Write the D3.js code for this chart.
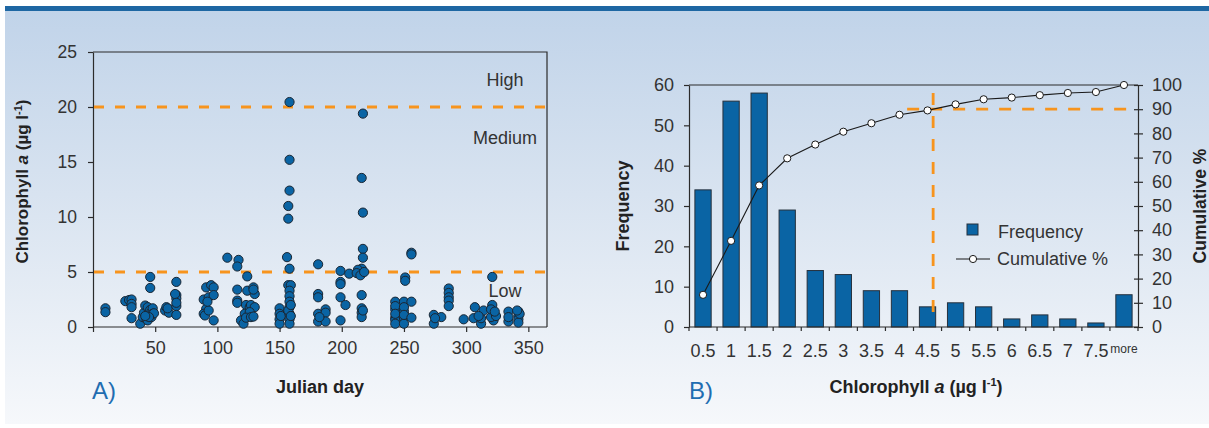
<!DOCTYPE html>
<html>
<head>
<meta charset="utf-8">
<script src="https://cdn.jsdelivr.net/npm/d3@7"></script>
<style>
  html, body { margin: 0; padding: 0; background: #ffffff; }
  svg { display: block; font-family: "Liberation Sans", Arial, Helvetica, sans-serif; }
  .axis path, .axis line { stroke: #2b2b2b; stroke-width: 1.2; }
  .axis text { fill: #333333; }
</style>
</head>
<body>
<svg id="chart" width="1209" height="428"></svg>
<script>
// ---- Panel A: chlorophyll a samples by Julian day [day, µg/l] ----
const samples = [
  [10,1.7],[10,1.35],
  [26,2.35],[29,2.45],[31,2.5],[31,2.1],[31,1.8],[31,0.8],
  [38,0.3],[40,0.9],[41,1.3],[42,1.95],[43,0.7],[44,1.8],[44,0.6],[45,1.05],[46,1.55],[47,1.35],
  [46,4.55],[46,3.55],[47,0.9],[48,1.7],[48,1.2],[49,1.25],[45,0.9],[42,1.0],
  [58,1.5],[59,1.8],[61,1.3],[60,1.7],
  [67,4.1],[67,2.9],[67,2.6],[67,1.9],[67,1.1],[66,3.0],[67,2.2],
  [89,2.5],[91,1.65],[89,1.2],[90,1.05],[93,1.5],[93,2.7],[91,3.6],[95,3.8],[97,3.6],[97,2.9],[97,0.6],[92,2.3],
  [108,6.3],[117,6.1],[116,5.5],[124,4.6],[116,3.4],[116,2.4],[116,2.2],[124,3.3],[129,3.6],[130,3.0],[129,3.4],
  [123,2.0],[126,1.8],[127,2.0],[130,1.8],[122,1.2],[126,1.35],[119,0.6],[121,0.3],[123,0.85],[127,0.9],[129,0.95],
  [150,1.7],[150,1.2],[150,0.7],[150,0.3],[151,1.0],
  [158,20.45],[158,15.2],[158,12.4],[157,11.0],[157,9.85],[156,6.35],[158,5.3],[157,3.8],[159,3.8],[158,3.3],
  [158,2.8],[158,2.3],[158,1.8],[158,1.2],[158,0.7],[158,0.3],[157,1.5],[159,2.0],[159,1.0],
  [181,5.7],[181,3.0],[181,2.7],[181,1.2],[181,0.5],[187,1.6],[187,1.3],[187,0.5],[182,0.9],
  [199,5.1],[199,4.1],[199,3.9],[199,2.7],[203,2.0],[199,0.6],[206,4.85],
  [217,19.4],[216,13.55],[217,10.4],[217,7.1],[217,6.3],[216,5.3],[213,5.2],[212,4.9],[215,4.7],[218,5.0],
  [216,2.9],[216,1.7],[216,1.3],[216,0.9],[217,1.5],
  [251,4.5],[251,4.2],[256,6.75],[256,6.6],
  [243,2.3],[243,1.6],[243,0.85],[243,0.65],[243,0.3],[243,1.9],[243,1.2],
  [250,2.3],[250,1.4],[250,0.85],[250,0.3],[250,1.8],[250,1.1],[256,2.3],[256,0.85],
  [274,1.1],[274,0.3],[280,0.9],[275,0.8],[286,3.5],[286,3.1],[286,2.7],[286,2.4],[286,1.9],
  [298,0.7],[306,0.8],[307,1.8],[312,0.3],[312,0.8],[314,1.5],[310,1.0],
  [321,4.55],[321,2.0],[322,1.2],[322,0.9],[322,0.6],[320,0.9],[324,1.0],[320,1.6],[323,1.4],
  [334,1.4],[334,0.5],[334,0.9],
  [342,1.4],[342,1.0],[342,0.7],[342,0.4],[343,1.2],[341,1.5]
];
const dayTicks = [0, 50, 100, 150, 200, 250, 300, 350];
const chlTicks = [0, 5, 10, 15, 20, 25];
const levelCuts = [5, 20];
const levelNames = ["Low", "Medium", "High"];

// ---- Panel B: frequency distribution of chlorophyll a ----
const binLabels = ["0.5","1","1.5","2","2.5","3","3.5","4","4.5","5","5.5","6","6.5","7","7.5","more"];
const frequency = [34, 56, 58, 29, 14, 13, 9, 9, 5, 6, 5, 2, 3, 2, 1, 8];
const cumulativePct = [13.3, 35.6, 58.5, 69.7, 75.4, 80.7, 84.2, 87.7, 89.5, 92.0, 94.1, 94.8, 95.8, 96.7, 97.1, 100];
const freqTicks = [0, 10, 20, 30, 40, 50, 60];
const pctTicks = [0, 10, 20, 30, 40, 50, 60, 70, 80, 90, 100];
const pctThreshold = 90;

// ---- colours ----
const BLUE = "#0a64a4";
const ORANGE = "#f7941d";
const INK = "#2b2b2b";
const TEXT = "#333333";

const svg = d3.select("#chart");

// background panel with vertical gradient and top rule
const defs = svg.append("defs");
const grad = defs.append("linearGradient").attr("id", "bg").attr("x1", 0).attr("y1", 0).attr("x2", 0).attr("y2", 1);
grad.append("stop").attr("offset", "0%").attr("stop-color", "#c0d3e9");
grad.append("stop").attr("offset", "45%").attr("stop-color", "#d8e3f0");
grad.append("stop").attr("offset", "100%").attr("stop-color", "#f6f8fb");
svg.append("rect").attr("x", 5).attr("y", 6).attr("width", 1204).attr("height", 418).attr("fill", "url(#bg)");
svg.append("rect").attr("x", 5).attr("y", 6).attr("width", 1204).attr("height", 5).attr("fill", "#1e67a3");

// ================= Panel A =================
const A = { left: 93, right: 547, top: 52, bottom: 327 };
const xA = d3.scaleLinear().domain([0, 365]).range([A.left, A.right]);
const yA = d3.scaleLinear().domain([0, 25]).range([A.bottom, A.top]);
const gA = svg.append("g");

// frame (top and right)
gA.append("path")
  .attr("d", `M${A.left},${A.top}H${A.right}V${A.bottom}`)
  .attr("fill", "none").attr("stroke", INK).attr("stroke-width", 1.2);

// y axis
const yAxisA = gA.append("g").attr("class", "axis")
  .attr("transform", `translate(${A.left},0)`)
  .call(d3.axisLeft(yA).tickValues(chlTicks).tickSize(5).tickPadding(11).tickSizeOuter(0));
yAxisA.selectAll("text").style("font-size", "17.5px");

// x axis
const xAxisA = gA.append("g").attr("class", "axis")
  .attr("transform", `translate(0,${A.bottom})`)
  .call(d3.axisBottom(xA).tickValues(dayTicks).tickSize(5).tickPadding(9).tickSizeOuter(0)
    .tickFormat(d => d === 0 ? "" : d));
xAxisA.select(".domain").attr("d", `M${A.left},0H${A.right}`);
xAxisA.selectAll("text").style("font-size", "18px");

// class thresholds
gA.selectAll("line.cut").data(levelCuts).enter().append("line")
  .attr("class", "cut")
  .attr("x1", A.left + 1).attr("x2", A.right)
  .attr("y1", d => yA(d)).attr("y2", d => yA(d))
  .attr("stroke", ORANGE).attr("stroke-width", 2.8).attr("stroke-dasharray", "10,11");

// class labels
const levelLabelVals = [3.3, 17.2, 22.5];
gA.selectAll("text.level").data(levelNames).enter().append("text")
  .attr("class", "level")
  .attr("x", A.right - 42)
  .attr("y", (d, i) => yA(levelLabelVals[i]) + 6)
  .attr("text-anchor", "middle")
  .style("font-size", "18px").attr("fill", TEXT)
  .text(d => d);

// points
gA.append("g").selectAll("circle").data(samples).enter().append("circle")
  .attr("cx", d => xA(d[0])).attr("cy", d => yA(d[1])).attr("r", 4.6)
  .attr("fill", BLUE).attr("stroke", "#1a2633").attr("stroke-width", 1);

// axis titles
const yTitleA = gA.append("text")
  .attr("transform", `translate(28,${(A.top + A.bottom) / 2 - 8}) rotate(-90)`)
  .attr("text-anchor", "middle")
  .style("font-size", "17px").style("font-weight", "bold").attr("fill", "#222");
yTitleA.append("tspan").text("Chlorophyll ");
yTitleA.append("tspan").style("font-style", "italic").text("a");
yTitleA.append("tspan").text(" (µg l");
yTitleA.append("tspan").attr("dy", -6).style("font-size", "11px").text("-1");
yTitleA.append("tspan").attr("dy", 6).text(")");

gA.append("text").attr("x", 320).attr("y", 393).attr("text-anchor", "middle")
  .style("font-size", "18px").style("font-weight", "bold").attr("fill", "#222").text("Julian day");
gA.append("text").attr("x", 92).attr("y", 399)
  .style("font-size", "24px").attr("fill", "#1f6db1").text("A)");

// ================= Panel B =================
const B = { left: 689, right: 1138, top: 85, bottom: 327 };
const xB = d3.scaleBand().domain(binLabels).range([B.left, B.right]).paddingInner(0.42).paddingOuter(0.21);
const yF = d3.scaleLinear().domain([0, 60]).range([B.bottom, B.top]);
const yP = d3.scaleLinear().domain([0, 100]).range([B.bottom, B.top]);
const gB = svg.append("g");

// top frame
gB.append("line").attr("x1", B.left).attr("x2", B.right).attr("y1", B.top).attr("y2", B.top)
  .attr("stroke", INK).attr("stroke-width", 1.2);

// bars
gB.append("g").selectAll("rect").data(binLabels).enter().append("rect")
  .attr("x", d => xB(d)).attr("width", xB.bandwidth())
  .attr("y", (d, i) => yF(frequency[i])).attr("height", (d, i) => yF(0) - yF(frequency[i]))
  .attr("fill", BLUE).attr("stroke", "#26313d").attr("stroke-width", 1);

// left axis
const yAxisF = gB.append("g").attr("class", "axis")
  .attr("transform", `translate(${B.left},0)`)
  .call(d3.axisLeft(yF).tickValues(freqTicks).tickSize(5).tickPadding(10).tickSizeOuter(0));
yAxisF.selectAll("text").style("font-size", "18px");

// right axis (ticks cross the line)
const yAxisP = gB.append("g").attr("class", "axis")
  .attr("transform", `translate(${B.right},0)`)
  .call(d3.axisRight(yP).tickValues(pctTicks).tickSize(5).tickPadding(9).tickSizeOuter(0));
yAxisP.selectAll(".tick line").attr("x1", -4).attr("x2", 5);
yAxisP.selectAll("text").style("font-size", "18px");

// bottom axis with ticks on bin boundaries
const step = xB.step();
const edges = d3.range(binLabels.length + 1);
const xAxisB = gB.append("g").attr("class", "axis");
xAxisB.append("line").attr("x1", B.left).attr("x2", B.right).attr("y1", B.bottom).attr("y2", B.bottom);
xAxisB.selectAll("line.edge").data(edges).enter().append("line").attr("class", "edge")
  .attr("x1", i => B.left + i * step).attr("x2", i => B.left + i * step)
  .attr("y1", B.bottom).attr("y2", B.bottom + 4);
xAxisB.selectAll("text").data(binLabels).enter().append("text")
  .attr("x", d => xB(d) + xB.bandwidth() / 2)
  .attr("y", d => d === "more" ? 353 : 357)
  .attr("text-anchor", "middle")
  .style("font-size", d => d === "more" ? "12px" : "18px")
  .text(d => d);

// cumulative line where it reaches the threshold
const cx = (d, i) => xB(binLabels[i]) + xB.bandwidth() / 2;
let crossX = cx(null, binLabels.length - 1);
for (let i = 1; i < cumulativePct.length; i++) {
  if (cumulativePct[i - 1] < pctThreshold && cumulativePct[i] >= pctThreshold) {
    const t = (pctThreshold - cumulativePct[i - 1]) / (cumulativePct[i] - cumulativePct[i - 1]);
    crossX = cx(null, i - 1) + t * (cx(null, i) - cx(null, i - 1));
    break;
  }
}
gB.append("line")
  .attr("x1", crossX - 26).attr("x2", B.right - 2)
  .attr("y1", yP(pctThreshold)).attr("y2", yP(pctThreshold))
  .attr("stroke", ORANGE).attr("stroke-width", 2.8).attr("stroke-dasharray", "12,11");
gB.append("line")
  .attr("x1", crossX).attr("x2", crossX)
  .attr("y1", yP(100) + 8).attr("y2", yP(0) - 10)
  .attr("stroke", ORANGE).attr("stroke-width", 2.8).attr("stroke-dasharray", "12,11");

// cumulative % line and markers
const line = d3.line().x((d, i) => cx(d, i)).y(d => yP(d));
gB.append("path").datum(cumulativePct).attr("d", line)
  .attr("fill", "none").attr("stroke", "#1a1a1a").attr("stroke-width", 1.1);
gB.append("g").selectAll("circle").data(cumulativePct).enter().append("circle")
  .attr("cx", (d, i) => cx(d, i)).attr("cy", d => yP(d)).attr("r", 3.6)
  .attr("fill", "#ffffff").attr("stroke", "#1a1a1a").attr("stroke-width", 1);

// legend
const leg = gB.append("g");
leg.append("rect").attr("x", 967).attr("y", 224).attr("width", 11).attr("height", 11)
  .attr("fill", BLUE).attr("stroke", "#26313d").attr("stroke-width", 1);
leg.append("text").attr("x", 998).attr("y", 238).style("font-size", "18px").attr("fill", TEXT).text("Frequency");
leg.append("line").attr("x1", 956).attr("x2", 990).attr("y1", 259).attr("y2", 259)
  .attr("stroke", "#1a1a1a").attr("stroke-width", 1.1);
leg.append("circle").attr("cx", 973).attr("cy", 259).attr("r", 3.6)
  .attr("fill", "#fff").attr("stroke", "#1a1a1a").attr("stroke-width", 1);
leg.append("text").attr("x", 997).attr("y", 265).style("font-size", "18px").attr("fill", TEXT).text("Cumulative %");

// titles
gB.append("text")
  .attr("transform", `translate(629,${(B.top + B.bottom) / 2}) rotate(-90)`)
  .attr("text-anchor", "middle")
  .style("font-size", "18px").style("font-weight", "bold").attr("fill", "#222").text("Frequency");
gB.append("text")
  .attr("transform", `translate(1206,${(B.top + B.bottom) / 2}) rotate(-90)`)
  .attr("text-anchor", "middle")
  .style("font-size", "17.5px").style("font-weight", "bold").attr("fill", "#222").text("Cumulative %");

const xTitleB = gB.append("text").attr("x", 916).attr("y", 393).attr("text-anchor", "middle")
  .style("font-size", "18px").style("font-weight", "bold").attr("fill", "#222");
xTitleB.append("tspan").text("Chlorophyll ");
xTitleB.append("tspan").style("font-style", "italic").text("a");
xTitleB.append("tspan").text(" (µg l");
xTitleB.append("tspan").attr("dy", -7).style("font-size", "11px").text("-1");
xTitleB.append("tspan").attr("dy", 7).text(")");

gB.append("text").attr("x", 689).attr("y", 399)
  .style("font-size", "24px").attr("fill", "#1f6db1").text("B)");
</script>
</body>
</html>
